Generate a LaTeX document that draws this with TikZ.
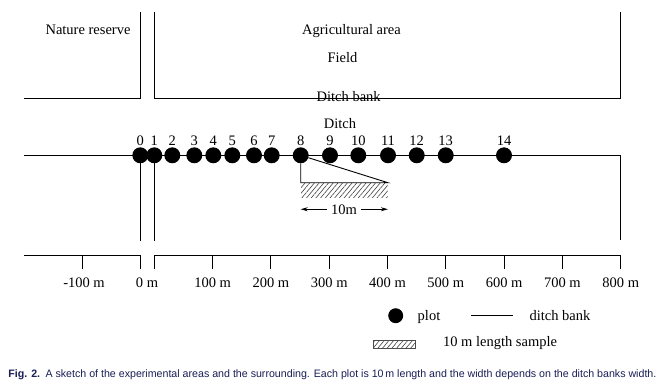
\documentclass[tikz,border=0pt]{standalone}
\usepackage{graphicx}
\usepackage{fontspec}
\setmainfont{Liberation Serif}
\setsansfont{Liberation Sans}
\usetikzlibrary{arrows.meta, patterns.meta}

\definecolor{capblue}{RGB}{25,30,85}

\begin{document}
\begin{tikzpicture}[x = 1pt, y = -1pt, % one unit is one pixel of the sketch
                > = {Stealth[length = 7pt, width = 4pt]}, % arrow head style
                line width = 0.9pt, % line style
                font = \fontsize{14.5}{16}\selectfont
            ]

            \tikzstyle{plot}=[draw = black, fill = black, circle, inner sep = 0pt,
            minimum size = 15pt]
            \tikzstyle{txt}=[inner sep = 0pt, anchor = base]
            \tikzstyle{sample}=[pattern = {Lines[angle = 50, distance = 3.6pt,
            line width = 0.6pt]}, pattern color = black!75, inner sep = 0pt]

            \useasboundingbox (0,0) rectangle (663,384);

            % field borders and ditch banks
            \draw (24,98) -- (140.3,98) -- (140.3,12);
            \draw (154.3,12) -- (154.3,98) -- (620.7,98) -- (620.7,12);
            \draw (24,155.3) -- (620.7,155.3) -- (620.7,240);
            \draw (140.3,155.3) -- (140.3,240.7); \draw (154.3,155.3) -- (154.3,240.7);

            % distance axis
            \draw (24,255.7) -- (140.3,255.7) -- (140.3,269);
            \draw (154.3,269) -- (154.3,255.7) -- (620.7,255.7);
            \draw (82.7,255.7) -- (82.7,269);
            \foreach \k in {1,...,8} {
                \draw (154.3+58.3*\k,255.7) -- (154.3+58.3*\k,269);
                \node[txt] (m\k) at (154.3+58.3*\k,287.3) {\k00 m};
            }
            \node[txt] (mneg) at (84,287.3) {-100 m};
            \node[txt] (mzero) at (147,287.3) {0 m};

            % area names
            \node[txt] (nature) at (88,34.3) {Nature reserve};
            \node[txt] (agri) at (351.5,34.3) {Agricultural area};
            \node[txt] (field) at (342.5,62.3) {Field};
            \node[txt] (bank) at (348.7,101.7) {Ditch bank};
            \draw (154.3,98) -- (620.7,98); % bank line runs over its label
            \node[txt] (ditch) at (340,128.3) {Ditch};

            % plots along the ditch
            \foreach \i/\x in {0/140.3, 1/154.3, 2/172.3, 3/194.3, 4/213.3,
                5/232.3, 6/254, 7/271.7, 8/300.7, 9/330, 10/358.3, 11/388,
                12/416.7, 13/445.7, 14/504} {
                \node[plot] (d\i) at (\x,155.3) {};
                \node[txt] (n\i) at (\x,145.7) {\i};
            }

            % 10 m sample of plot 8
            \node[sample, minimum width = 86.6pt, minimum height = 14.6pt,
            anchor = north west] (smp) at (300.7,182.7) {};
            \draw (d8) -- (smp.north west) -- (smp.north east) -- (d8);
            \node[txt] (len) at (344,214) {10m};
            \draw[->] ([xshift = -4pt]len.west) -- (smp.south west |- len.west);
            \draw[->] ([xshift = 4pt]len.east) -- (smp.south east |- len.east);

            % legend
            \node[plot, minimum size = 14pt] (lplot) at (395.7,315.7) {};
            \node[txt] (lplottxt) at (429,320) {plot};
            \draw (471,315.7) -- (512.7,315.7);
            \node[txt] (lbank) at (560,320) {ditch bank};
            \node[sample, draw = black!70, line width = 0.4pt, minimum width = 42pt,
            minimum height = 8pt] (lsmp) at (394,344) {};
            \node[txt] (lsmptxt) at (500,346.7) {10 m length sample};

            % caption
            \node[inner sep = 0pt, anchor = base west, text = capblue] (cap)
            at (8,377) {\resizebox{648pt}{7.8pt}{\sffamily\textbf{Fig. 2.}\enspace
            A sketch of the experimental areas and the surrounding. Each plot is
            10\,m length and the width depends on the ditch banks width.}};

        \end{tikzpicture}
\end{document}
